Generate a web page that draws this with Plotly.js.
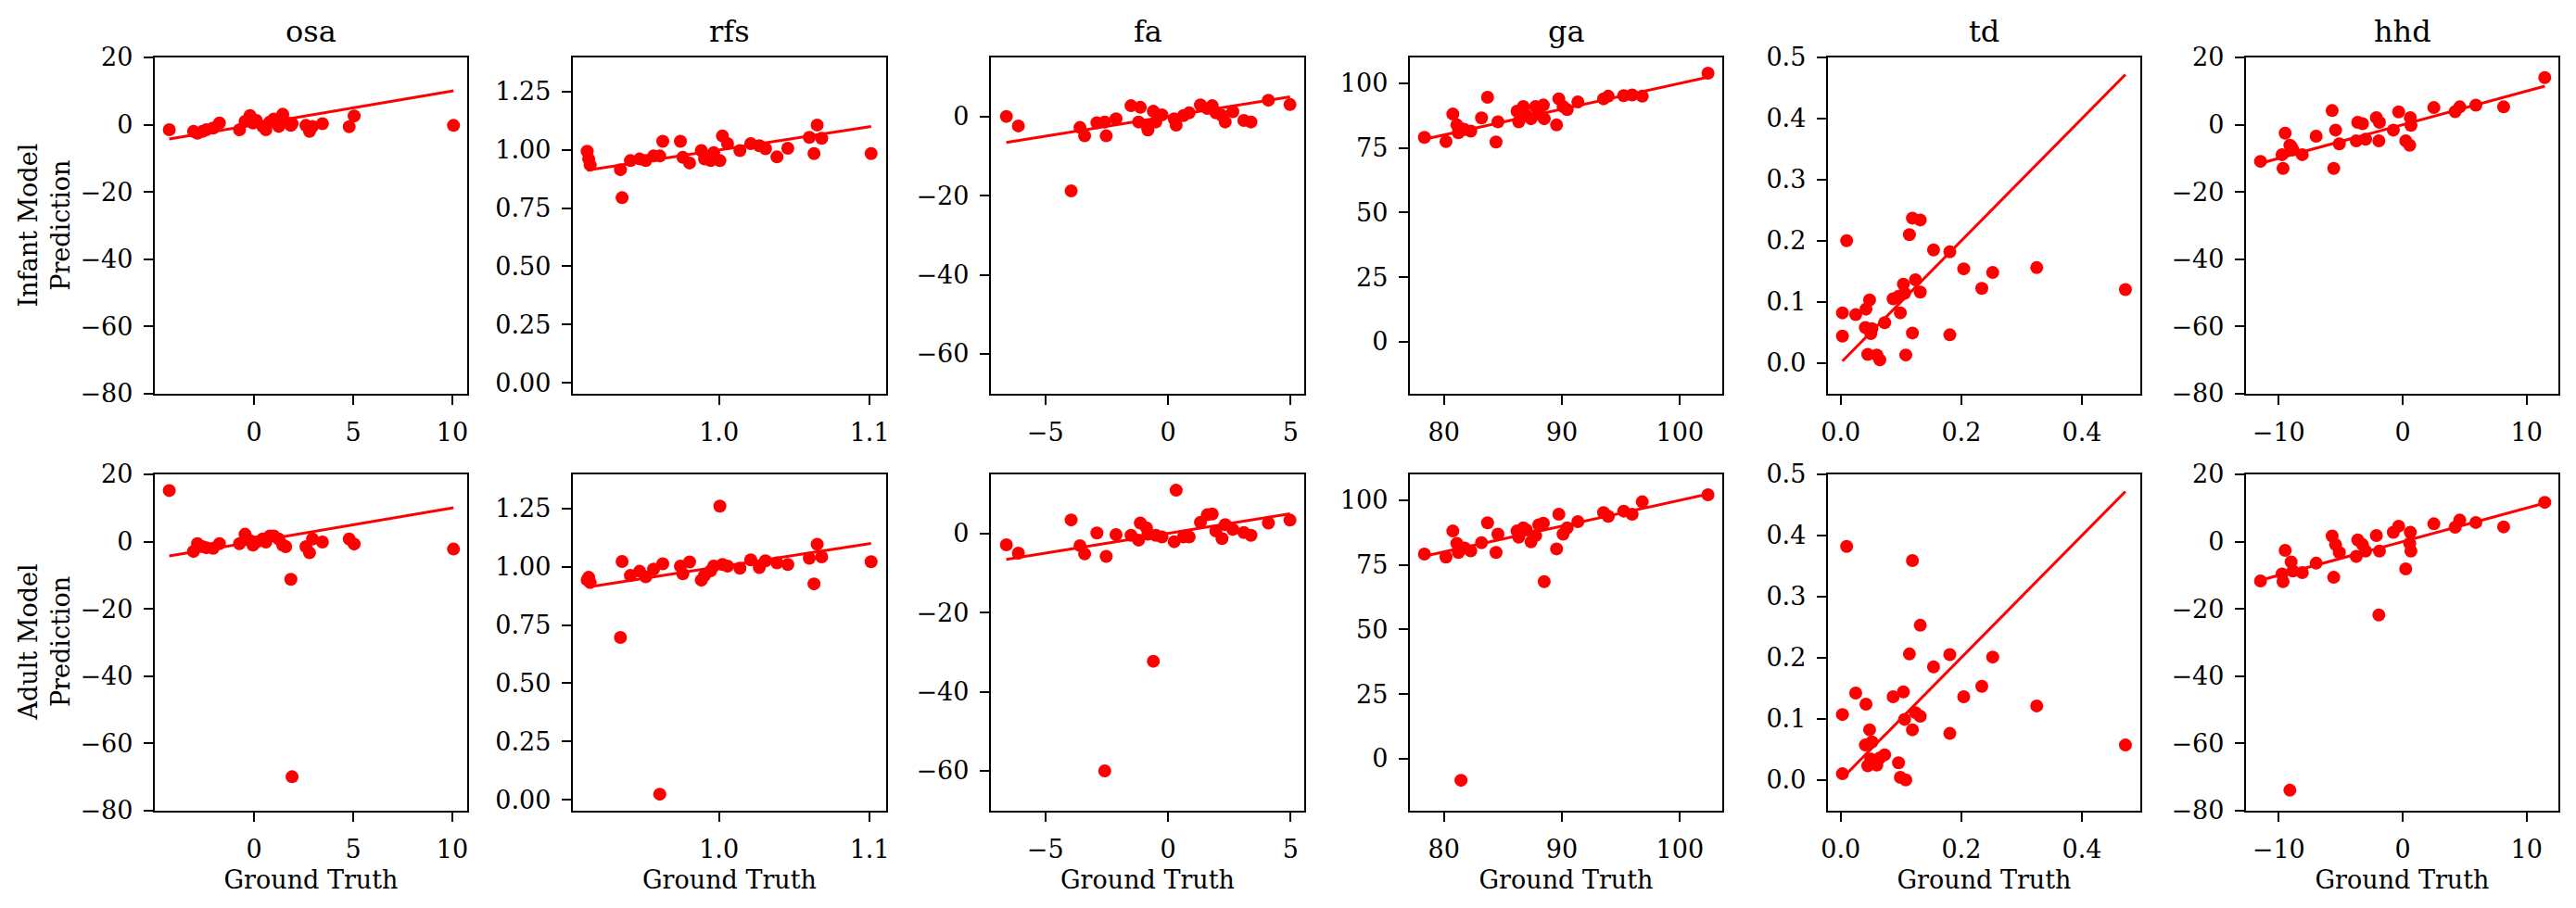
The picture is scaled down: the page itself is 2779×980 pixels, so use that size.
<!DOCTYPE html>
<html>
<head>
<meta charset="utf-8">
<script src="https://cdn.plot.ly/plotly-3.0.1.min.js"></script>
<style>html,body{margin:0;padding:0;background:#fff;}#chart{width:2779px;height:980px;}</style>
</head>
<body>
<div id="chart"></div>
<script>
// ---------- data ----------
const panelNames = ["osa", "rfs", "fa", "ga", "td", "hhd"];
const rowLabels = ["Infant Model<br>Prediction", "Adult Model<br>Prediction"];
const xLabel = "Ground Truth";

const gt_osa = [-4.27, -3.05, -2.85, -2.6, -2.4, -2.06, -1.74, -0.73, -0.45, -0.2, -0.05, 0.12, 0.44, 0.6, 0.8, 1.0, 1.25, 1.45, 1.6, 1.86, 1.92, 2.62, 2.8, 2.95, 3.45, 4.8, 5.05, 10.06];
const infant_osa = [-1.5, -2.0, -2.5, -2.0, -1.5, -1.0, 0.5, -1.5, 1.0, 2.7, 0.5, 1.3, -0.5, -1.5, 0.8, 1.7, -0.5, 3.1, 0.8, -0.2, 0.3, -0.2, -2.0, -0.5, 0.3, -0.6, 2.6, -0.2];
const adult_osa = [15.2, -2.9, -0.6, -1.5, -1.8, -2.0, -0.6, -0.6, 2.2, 0.3, -1.0, -0.1, 0.8, -0.1, 1.7, 1.7, 0.8, -1.0, -1.5, -11.2, -69.9, -1.5, -3.3, 0.8, -0.1, 0.8, -0.7, -2.2];

const gt_rfs = [0.9125, 0.9135, 0.9145, 0.9346, 0.9357, 0.9412, 0.9473, 0.9514, 0.9566, 0.9607, 0.9627, 0.9744, 0.976, 0.9805, 0.9883, 0.9904, 0.9945, 0.9965, 1.0006, 1.0023, 1.0057, 1.0139, 1.0211, 1.0268, 1.0309, 1.0385, 1.0457, 1.06, 1.0631, 1.0652, 1.0682, 1.101];
const infant_rfs = [0.994, 0.961, 0.935, 0.915, 0.795, 0.954, 0.961, 0.954, 0.974, 0.974, 1.037, 1.037, 0.968, 0.944, 0.997, 0.961, 0.954, 0.988, 0.954, 1.060, 1.027, 0.997, 1.027, 1.018, 1.005, 0.970, 1.007, 1.054, 0.984, 1.107, 1.050, 0.984];
const adult_rfs = [0.944, 0.955, 0.933, 0.697, 1.023, 0.963, 0.981, 0.957, 0.990, 0.024, 1.013, 1.003, 0.970, 1.021, 0.943, 0.963, 0.983, 1.003, 1.261, 1.010, 1.003, 0.994, 1.030, 0.997, 1.026, 1.017, 1.010, 1.037, 0.927, 1.097, 1.043, 1.022];

const gt_fa = [-6.59, -6.1, -3.95, -3.59, -3.4, -2.9, -2.58, -2.52, -2.12, -1.51, -1.13, -1.2, -0.88, -0.82, -0.6, -0.5, -0.25, 0.25, 0.33, 0.63, 0.86, 1.32, 1.6, 1.8, 1.95, 2.2, 2.33, 2.64, 3.09, 3.38, 4.09, 4.97];
const infant_fa = [0.0, -2.4, -18.8, -2.8, -4.9, -1.6, -1.4, -4.9, -0.6, 2.7, 2.3, -1.4, -2.2, -3.4, 1.3, -1.4, 0.4, -0.6, -2.2, 0.2, 0.9, 2.9, 2.0, 2.7, 0.9, 0.2, -1.4, 1.2, -1.0, -1.4, 4.1, 3.0];
const adult_fa = [-2.9, -5.0, 3.4, -3.1, -5.2, 0.1, -60.0, -5.8, -0.3, -0.5, 2.6, -1.7, 1.4, -0.2, -32.3, -0.5, -0.9, -2.1, 10.9, -0.9, -0.9, 2.8, 4.7, 4.9, 0.6, -1.3, 2.2, 1.0, 0.2, -0.5, 2.6, 3.35];

const gt_ga = [78.35, 80.18, 80.76, 81.1, 81.23, 81.45, 81.75, 82.28, 83.19, 83.7, 84.42, 84.58, 86.2, 86.34, 86.73, 86.99, 87.38, 87.77, 88.04, 88.43, 88.5, 89.55, 89.74, 90.1, 90.45, 91.35, 93.53, 93.93, 95.24, 95.95, 96.81, 102.38];
const infant_ga = [79.1, 77.5, 88.1, 83.9, 80.9, 82.5, 82.1, 81.5, 86.6, 94.6, 77.3, 85.1, 89.2, 85.1, 91.0, 87.5, 86.3, 91.0, 88.1, 91.6, 86.3, 83.9, 94.0, 91.0, 89.8, 92.8, 94.0, 95.0, 95.2, 95.5, 95.0, 103.9];
const adult_ga = [79.2, 78.0, 88.1, 83.3, 79.8, -8.3, 81.5, 80.4, 83.6, 91.3, 79.8, 86.9, 88.1, 85.7, 89.3, 88.5, 83.9, 86.3, 90.5, 91.1, 68.5, 81.2, 94.6, 86.9, 89.3, 91.7, 95.2, 93.8, 95.8, 94.6, 99.4, 102.1];

const gt_td = [0.010, 0.003, 0.003, 0.025, 0.042, 0.048, 0.041, 0.052, 0.050, 0.045, 0.060, 0.065, 0.073, 0.087, 0.096, 0.099, 0.104, 0.106, 0.108, 0.114, 0.119, 0.132, 0.124, 0.132, 0.119, 0.154, 0.181, 0.181, 0.204, 0.234, 0.252, 0.325, 0.472];
const infant_td = [0.200, 0.082, 0.044, 0.079, 0.088, 0.103, 0.058, 0.056, 0.048, 0.014, 0.013, 0.005, 0.066, 0.105, 0.109, 0.082, 0.129, 0.114, 0.013, 0.210, 0.237, 0.234, 0.136, 0.116, 0.049, 0.185, 0.182, 0.046, 0.154, 0.122, 0.148, 0.156, 0.120];
const adult_td = [0.382, 0.107, 0.010, 0.142, 0.124, 0.082, 0.057, 0.062, 0.034, 0.023, 0.024, 0.036, 0.041, 0.136, 0.028, 0.004, 0.144, 0.099, 0.000, 0.206, 0.359, 0.253, 0.110, 0.104, 0.082, 0.185, 0.205, 0.076, 0.136, 0.153, 0.201, 0.121, 0.057];

const gt_hhd = [-11.47, -9.65, -9.48, -9.73, -9.1, -8.85, -8.1, -6.98, -5.69, -5.56, -5.41, -5.11, -3.74, -3.62, -3.24, -2.99, -2.12, -1.87, -1.92, -0.75, -0.32, 0.62, 0.67, 0.25, 0.57, 2.52, 4.24, 4.61, 5.91, 8.15, 11.47, -9.0];
const infant_hhd = [-10.9, -13.0, -2.5, -8.9, -6.1, -7.5, -8.9, -3.4, 4.2, -13.0, -1.6, -5.7, -4.8, 0.7, 0.3, -4.3, 2.1, 0.7, -4.8, -1.6, 3.8, 2.1, -0.2, -4.8, -6.1, 5.1, 3.9, 5.3, 5.8, 5.3, 14.0, -6.5];
const adult_hhd = [-11.7, -11.9, -2.6, -9.6, -73.9, -8.7, -9.2, -6.4, 1.7, -10.6, -0.9, -3.2, -4.4, 0.5, -0.9, -2.8, 1.8, -2.8, -21.8, 2.8, 4.6, 2.8, -2.8, -8.1, -0.5, 5.3, 4.3, 6.4, 5.7, 4.4, 11.7, -6.0];

const xTicks = {osa: [0, 5, 10], rfs: [1.0, 1.1], fa: [-5, 0, 5], ga: [80, 90, 100], td: [0.0, 0.2, 0.4], hhd: [-10, 0, 10]};
const yTicks = {osa: [-80, -60, -40, -20, 0, 20], rfs: [0, 0.25, 0.5, 0.75, 1.0, 1.25], fa: [-60, -40, -20, 0], ga: [0, 25, 50, 75, 100], td: [0, 0.1, 0.2, 0.3, 0.4, 0.5], hhd: [-80, -60, -40, -20, 0, 20]};

// ---------- layout / styling ----------
const W = 2779, H = 980;
const gtData = {osa: gt_osa, rfs: gt_rfs, fa: gt_fa, ga: gt_ga, td: gt_td, hhd: gt_hhd};
const predData = [
  {osa: infant_osa, rfs: infant_rfs, fa: infant_fa, ga: infant_ga, td: infant_td, hhd: infant_hhd},
  {osa: adult_osa, rfs: adult_rfs, fa: adult_fa, ga: adult_ga, td: adult_td, hhd: adult_hhd}
];
const xRange = {osa: [-5.0, 10.75], rfs: [0.903, 1.111], fa: [-7.22, 5.55], ga: [77.12, 103.59], td: [-0.021, 0.4967], hhd: [-12.64, 12.57]};
const yRange = {osa: [-80, 20], rfs: [-0.047, 1.397], fa: [-70.07, 14.9], ga: [-20.07, 110.0], td: [-0.0505, 0.5], hhd: [-80, 20]};
const xFmt = {osa: "", rfs: ".1f", fa: "", ga: "", td: ".1f", hhd: ""};
const yFmt = {osa: "", rfs: ".2f", fa: "", ga: "", td: ".1f", hhd: ""};

const colLeft = [167, 618, 1069, 1521, 1972, 2423];
const colRight = [504, 956, 1407, 1858, 2309, 2760];
const rowTop = [62, 512];
const rowBottom = [425, 875];

const FONT = "DejaVu Serif, Liberation Serif, serif";
const RED = "#ff0000";

const traces = [];
const layout = {
  width: W, height: H,
  margin: {l: 0, r: 0, t: 0, b: 0},
  paper_bgcolor: "#ffffff", plot_bgcolor: "#ffffff",
  showlegend: false,
  font: {family: FONT, size: 27, color: "#000"},
  annotations: []
};

for (let r = 0; r < 2; r++) {
  for (let c = 0; c < 6; c++) {
    const name = panelNames[c];
    const idx = r * 6 + c + 1;
    const xa = idx === 1 ? "x" : "x" + idx;
    const ya = idx === 1 ? "y" : "y" + idx;
    const gt = gtData[name];
    const pr = predData[r][name];
    const lo = Math.min(...gt), hi = Math.max(...gt);
    // identity reference line over the ground-truth span
    traces.push({
      type: "scatter", mode: "lines", x: [lo, hi], y: [lo, hi],
      xaxis: xa, yaxis: ya, line: {color: RED, width: 3}, hoverinfo: "skip"
    });
    traces.push({
      type: "scatter", mode: "markers", x: gt, y: pr,
      xaxis: xa, yaxis: ya, marker: {color: RED, size: 14, line: {width: 0}}
    });
    const axCommon = {
      showgrid: false, zeroline: false, showline: true, mirror: true,
      linecolor: "#000", linewidth: 2.2, ticks: "outside", ticklen: 10, tickwidth: 2,
      tickcolor: "#000", tickfont: {family: FONT, size: 27, color: "#000"}
    };
    layout["xaxis" + (idx === 1 ? "" : idx)] = Object.assign({}, axCommon, {
      domain: [colLeft[c] / W, colRight[c] / W], anchor: ya,
      range: xRange[name], tickmode: "array", tickvals: xTicks[name], tickformat: xFmt[name],
      ticklabelstandoff: 6,
      title: r === 1 ? {text: xLabel, font: {family: FONT, size: 27, color: "#000"}, standoff: 10} : {text: ""}
    });
    layout["yaxis" + (idx === 1 ? "" : idx)] = Object.assign({}, axCommon, {
      domain: [1 - rowBottom[r] / H, 1 - rowTop[r] / H], anchor: xa,
      range: yRange[name], tickmode: "array", tickvals: yTicks[name], tickformat: yFmt[name],
      ticklabelstandoff: 6,
      title: {text: ""}
    });
    if (r === 0) {
      layout.annotations.push({
        text: name, xref: "paper", yref: "paper",
        x: (colLeft[c] + colRight[c]) / 2 / W, y: 1 - 34 / H,
        xanchor: "center", yanchor: "middle", showarrow: false,
        font: {family: FONT, size: 32, color: "#000"}
      });
    }
    if (c === 0) {
      layout.annotations.push({
        text: rowLabels[r], xref: "paper", yref: "paper",
        x: 47 / W, y: 1 - (rowTop[r] + rowBottom[r]) / 2 / H,
        xanchor: "center", yanchor: "middle", showarrow: false, textangle: -90,
        font: {family: FONT, size: 27, color: "#000"}
      });
    }
  }
}

Plotly.newPlot("chart", traces, layout, {staticPlot: true, displayModeBar: false});
</script>
</body>
</html>
